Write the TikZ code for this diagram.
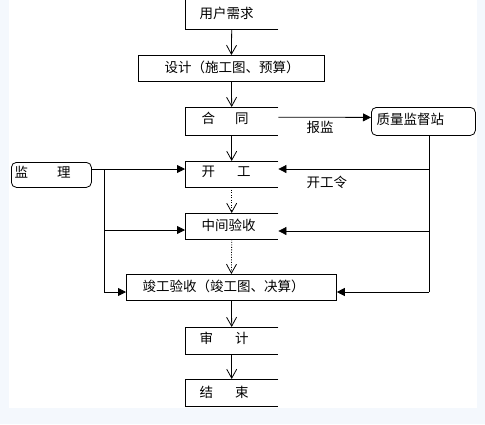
\documentclass[tikz,border=0pt]{standalone}
\usepackage{fontspec}
\newfontfamily\cjk{Noto Sans CJK SC}
\usetikzlibrary{arrows.meta}
\definecolor{bgc}{HTML}{F4F8FD}
\tikzset{
  box/.style={minimum width=93pt, minimum height=26pt, inner sep=0pt, anchor=north west},
  outline/.style={draw=black, line width=0.8pt},
  lbl/.style={inner sep=0pt, anchor=west, font=\cjk\fontsize{13.5}{15}\selectfont},
  conn/.style={line width=0.8pt, draw=black},
  openarr/.style={conn, -{Straight Barb[length=9pt,width=10pt,line width=0.8pt]}},
  fillarr/.style={conn, -{Triangle[length=8pt,width=8pt]}},
  dotline/.style={dash pattern=on 1pt off 1.5pt}
}
\begin{document}
\begin{tikzpicture}[x=1pt,y=-1pt]
\useasboundingbox (0,0) rectangle (485,424);
\fill[bgc] (0,0) rectangle (485,424);
\fill[white] (9,0) rectangle (477,408);

% boxes
\node[box, minimum height=34pt] (yh) at (185,-5) {};
\node[box, minimum width=186pt, outline] (sj) at (138,55) {};
\node[box, minimum height=28pt] (ht) at (185,107) {};
\node[box] (kg) at (185,161) {};
\node[box] (zj) at (185,213) {};
\node[box, minimum width=210pt, outline] (jg) at (126,274) {};
\node[box, minimum height=27pt] (shj) at (185,327) {};
\node[box, minimum height=27pt] (js) at (185,379) {};
\node[box, minimum width=104pt, minimum height=28pt, outline, rounded corners=5pt] (zl) at (371,107) {};
\node[box, minimum width=80pt, minimum height=25pt, outline, rounded corners=5pt] (jl) at (11,162) {};

% open-right outlines
\draw[conn] (yh.south east) -- (yh.south west) -- (yh.south west |- 0,0);
\foreach \b in {ht,kg,zj,shj,js}{
  \draw[conn] (\b.north east) -- (\b.north west) -- (\b.south west) -- (\b.south east);
}

% texts
\node[lbl] (tyh) at (199.5,13) {用户需求};
\node[lbl] (tsj) at (164.5,67) {设计（施工图、预算）};
\node[lbl] (tht) at (201.5,118) {合\hspace{20pt}同};
\node[lbl] (tkg) at (201.5,172) {开\hspace{22pt}工};
\node[lbl] (tzj) at (201.5,225) {中间验收};
\node[lbl] (tjg) at (142.5,286) {竣工验收（竣工图、决算）};
\node[lbl] (tshj) at (199.5,338) {审\hspace{22pt}计};
\node[lbl] (tjs) at (199.5,392) {结\hspace{22pt}束};
\node[lbl] (tzl) at (376.5,119) {质量监督站};
\node[lbl] (tjl) at (14.5,172) {监\hspace{29pt}理};
\node[lbl] (tbj) at (306.5,127) {报监};
\node[lbl] (tkgl) at (306.5,182) {开工令};

% main flow
\draw[openarr] (yh.south) -- (sj.north);
\draw[openarr] (sj.south) -- (ht.north);
\draw[openarr] (ht.south) -- (kg.north);
\draw[openarr, dotline] (kg.south) -- (zj.north);
\draw[openarr, dotline] (zj.south) -- (jg.north);
\draw[openarr] (jg.south) -- (shj.north);
\draw[openarr] (shj.south) -- (js.north);

% 报监
\draw[fillarr] ([yshift=4pt]ht.east) -- ([yshift=4pt]zl.west);

% left branch from 监理
\coordinate (L1) at (104,169);
\coordinate (L2) at (104,230);
\coordinate (L3) at (104,292);
\draw[conn] (jl.east |- L1) -- (L1);
\draw[fillarr] (L1) -- (kg.west |- L1);
\draw[conn] (L1) -- (L3);
\draw[fillarr] (L2) -- (zj.west |- L2);
\draw[fillarr] (L3) -- (jg.west |- L3);

% right branch from 质量监督站
\coordinate (R1) at (429,169);
\coordinate (R2) at (429,231);
\coordinate (R3) at (429,292);
\draw[conn] (zl.south -| R1) -- (R3);
\draw[fillarr] (R1) -- (kg.east |- R1);
\draw[fillarr] (R2) -- (zj.east |- R2);
\draw[fillarr] (R3) -- (jg.east |- R3);
\end{tikzpicture}
\end{document}
